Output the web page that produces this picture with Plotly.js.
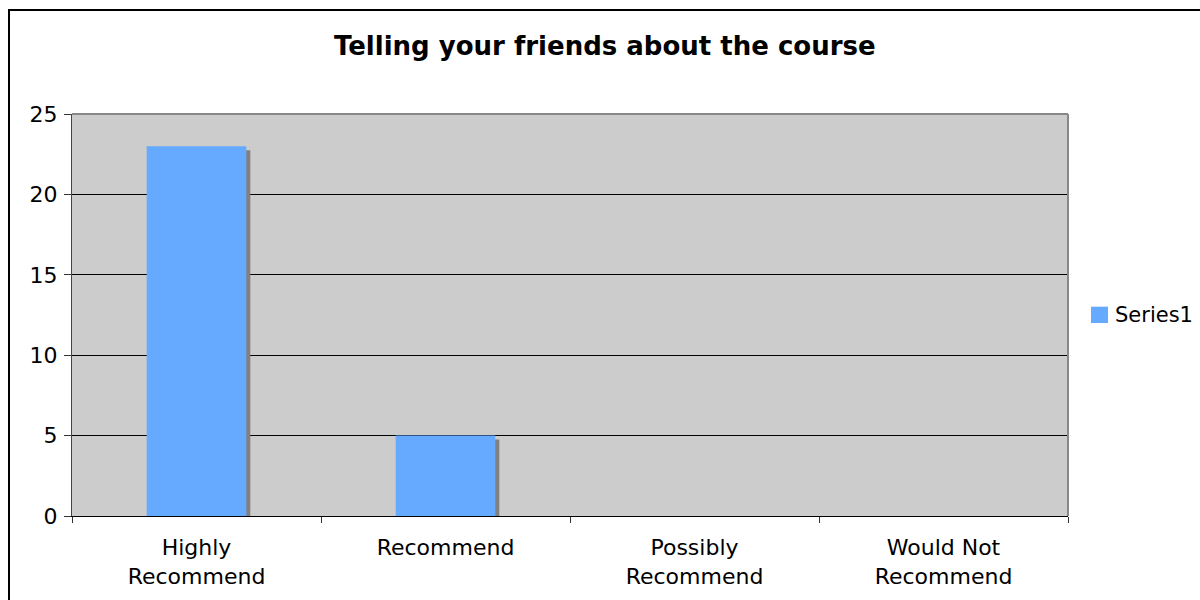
<!DOCTYPE html>
<html><head><meta charset="utf-8">
<script src="https://cdn.plot.ly/plotly-3.0.1.min.js"></script>
<style>
html,body{margin:0;padding:0;background:#fff;}
#wrap{position:relative;width:1200px;height:600px;overflow:hidden;}
#chart{width:1200px;height:600px;}
#frame{position:absolute;left:8px;top:9px;width:1300px;height:700px;border-left:2px solid #000;border-top:2px solid #000;pointer-events:none;}
</style></head>
<body><div id="wrap"><div id="chart"></div><div id="frame"></div></div>
<script>
const categories = ["Highly<br>Recommend", "Recommend", "Possibly<br>Recommend", "Would Not<br>Recommend"];
const series1 = [23, 5, 0, 0];
const seriesName = "Series1";
const yTicks = [0, 5, 10, 15, 20, 25];

const font = "DejaVu Sans, Verdana, sans-serif";
const barColor = '#66AAFF';
const barW = 0.4;
const shadowDx = 4/249, shadowDy = 0.25;

const shadow = {
  type: 'bar', x: categories, y: series1, base: series1.map(() => -shadowDy),
  width: barW, offset: -barW/2 + shadowDx,
  marker: {color: '#808080', line: {width: 0}},
  showlegend: false, hoverinfo: 'skip'
};
const main = {
  type: 'bar', x: categories, y: series1, name: seriesName,
  width: barW, offset: -barW/2, showlegend: false,
  marker: {color: barColor, line: {width: 0}}
};

const layout = {
  width: 1200, height: 600,
  margin: {l: 72, r: 132, t: 114, b: 84, pad: 0},
  paper_bgcolor: '#fff', plot_bgcolor: '#CCCCCC',
  barmode: 'overlay', showlegend: false,
  font: {family: font, color: '#000', size: 22},
  title: {text: '<b>Telling your friends about the course</b>', x: 0.504, xanchor: 'center', y: 0.923, yanchor: 'middle',
          font: {family: font, size: 26, color: '#000'}},
  xaxis: {type: 'category', tickson: 'boundaries', ticks: 'outside', ticklen: 6, tickcolor: '#333',
          showline: true, linecolor: '#000', linewidth: 1, showgrid: false,
          tickfont: {size: 22, family: font}, ticklabelstandoff: 12},
  yaxis: {range: [0, 25], tickvals: yTicks, ticks: 'outside', ticklen: 7, tickcolor: '#333',
          showline: true, linecolor: '#444', linewidth: 1, gridcolor: '#000', gridwidth: 1,
          zeroline: false, tickfont: {size: 22, family: font}, ticklabelstandoff: 2},
  shapes: [
    {type: 'line', xref: 'paper', yref: 'paper', x0: 0, x1: 1, y0: 1, y1: 1, line: {color: '#888', width: 2}, layer: 'above'},
    {type: 'line', xref: 'paper', yref: 'paper', x0: 1, x1: 1, y0: 0, y1: 1, line: {color: '#888', width: 2}, layer: 'above'},
    {type: 'rect', xref: 'paper', yref: 'paper', x0: 1.0231, x1: 1.0402, y0: 0.4801, y1: 0.5207,
     fillcolor: barColor, line: {width: 0}}
  ],
  annotations: [
    {xref: 'paper', yref: 'paper', x: 1.0452, y: 0.5, xanchor: 'left', yanchor: 'middle', showarrow: false,
     text: seriesName, font: {size: 21, family: font, color: '#000'}}
  ]
};
Plotly.newPlot('chart', [shadow, main], layout, {displayModeBar: false, staticPlot: true});
</script></body></html>
